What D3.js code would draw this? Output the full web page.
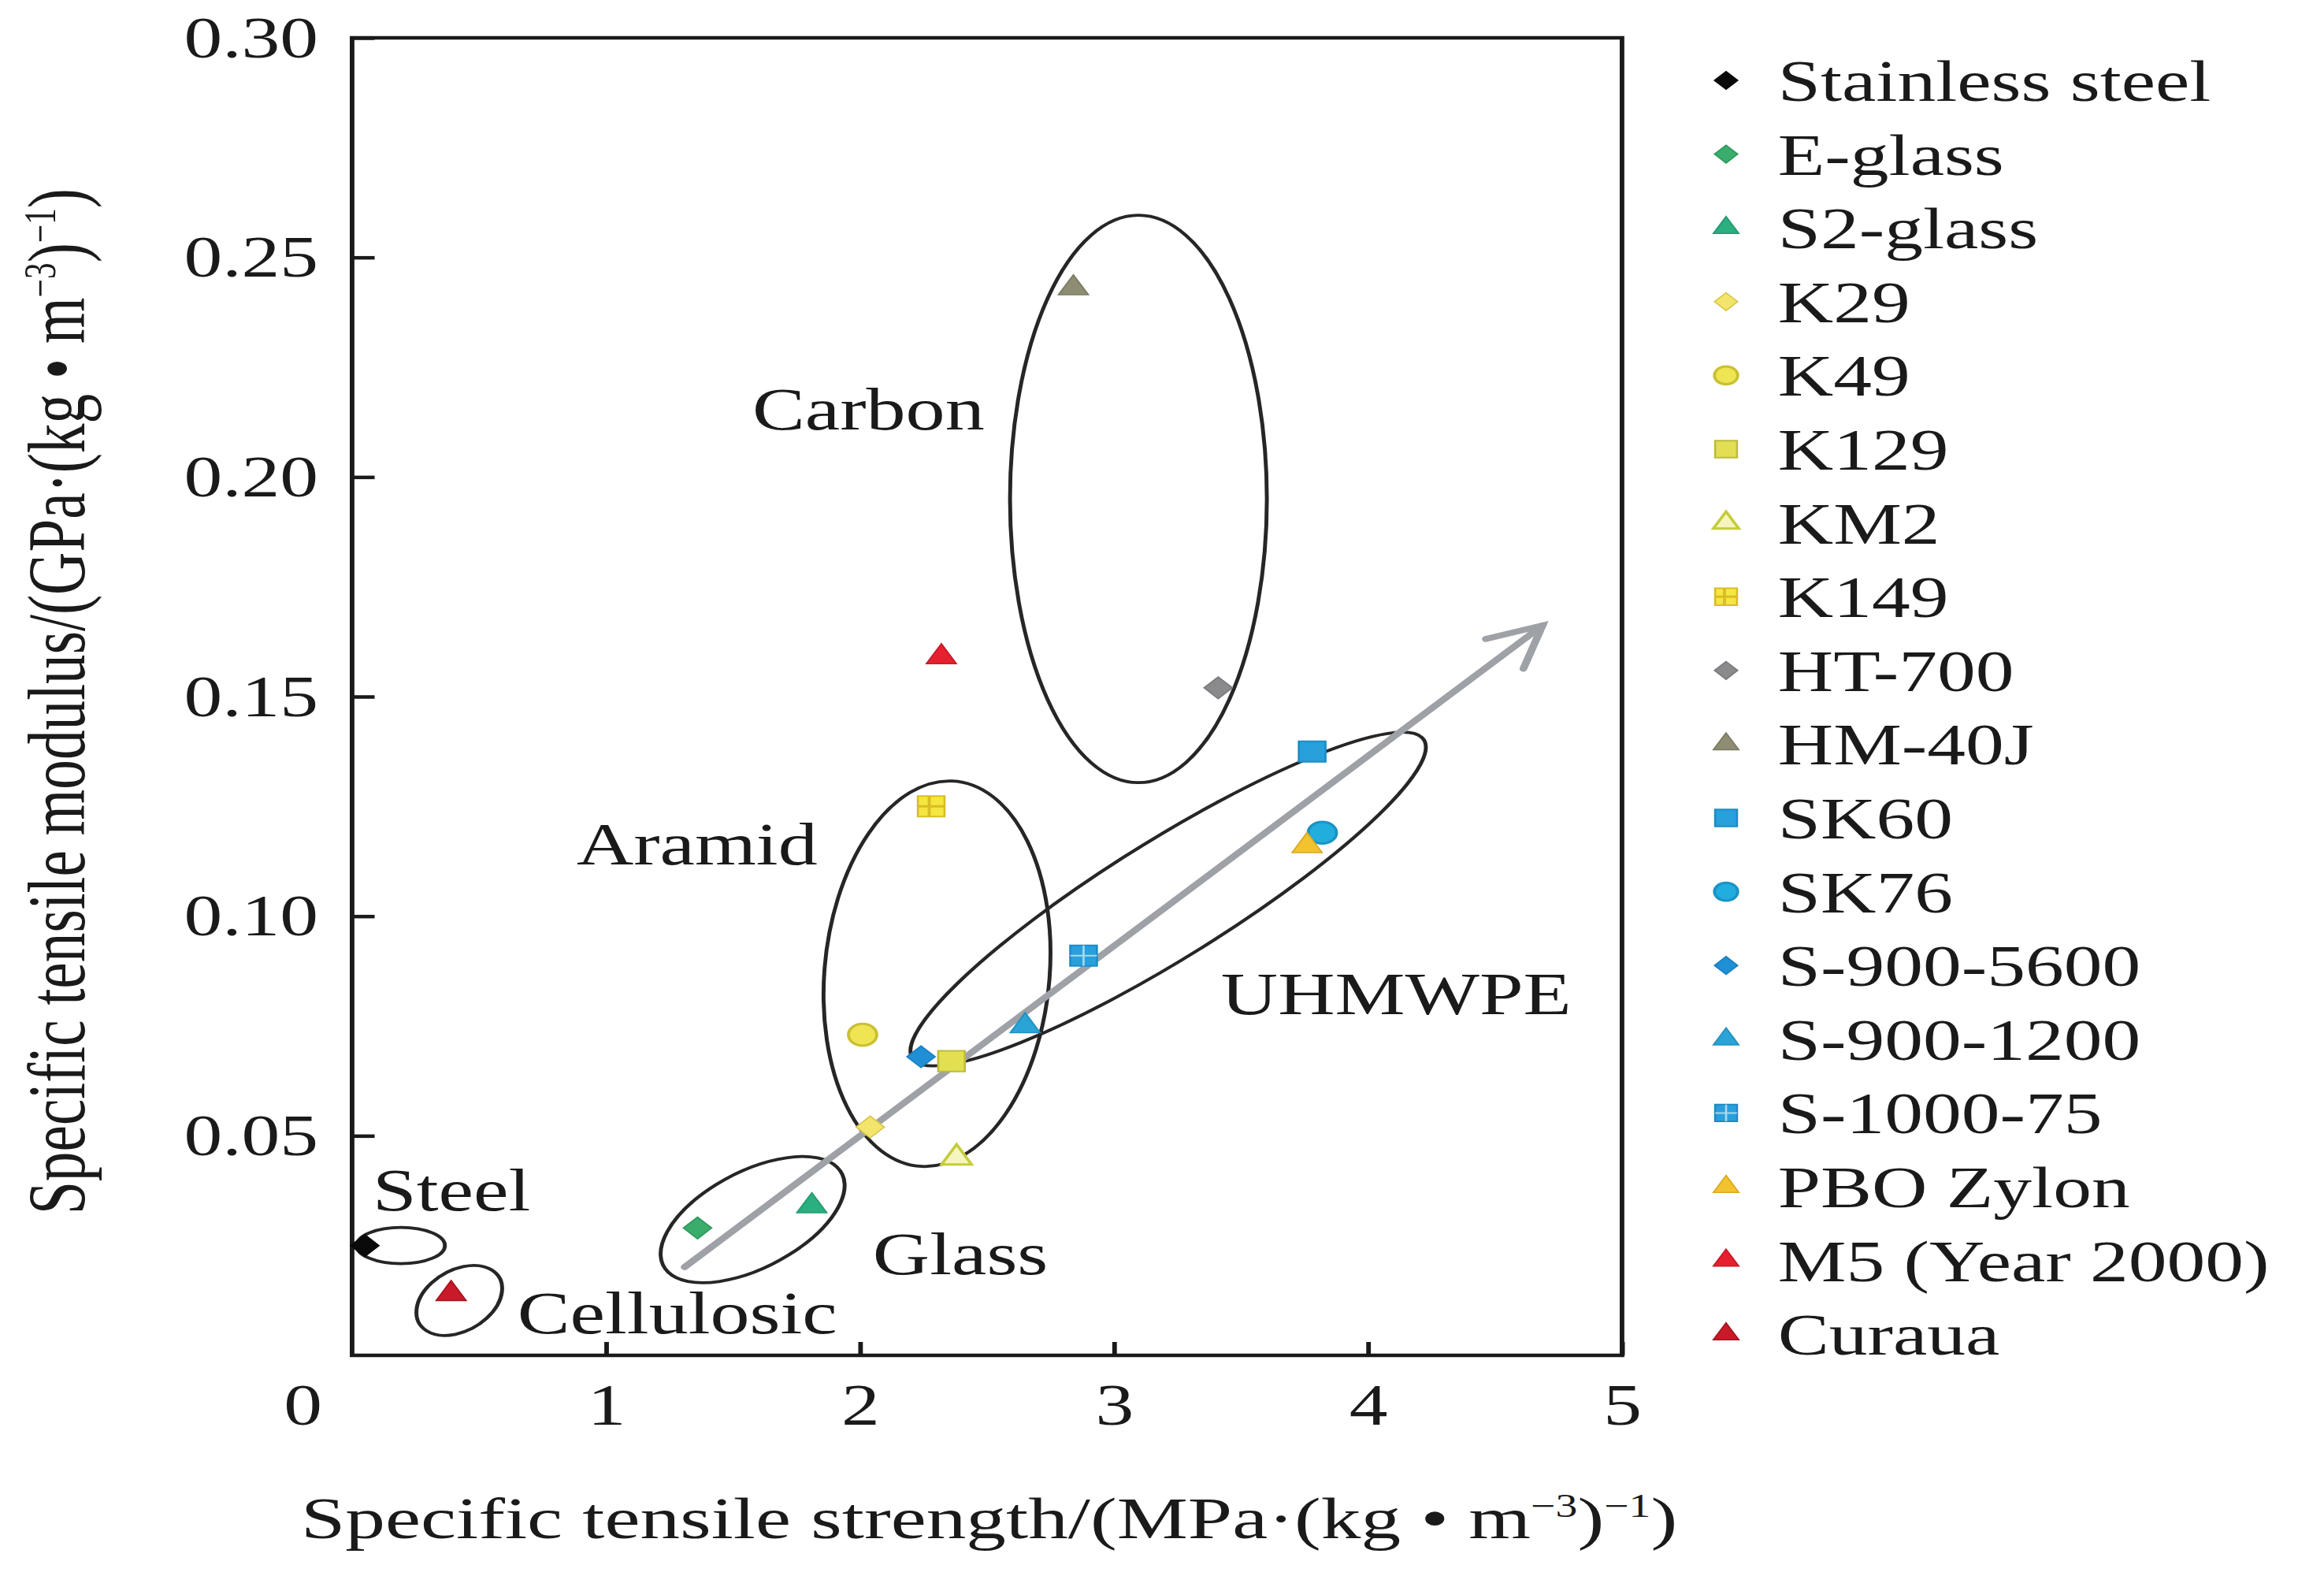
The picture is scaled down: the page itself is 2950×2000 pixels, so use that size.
<!DOCTYPE html>
<html>
<head>
<meta charset="utf-8">
<script src="https://cdn.jsdelivr.net/npm/d3@7"></script>
<style>
html, body { margin: 0; padding: 0; background: #ffffff; }
svg { display: block; }
</style>
</head>
<body>
<svg id="chart"></svg>
<script>
// ---------------- data ----------------
const materials = ["Stainless steel", "E-glass", "S2-glass", "K29", "K49", "K129", "KM2", "K149",
  "HT-700", "HM-40J", "SK60", "SK76", "S-900-5600", "S-900-1200", "S-1000-75", "PBO Zylon",
  "M5 (Year 2000)", "Curaua"];
const strength = [0.05, 1.36, 1.81, 2.04, 2.01, 2.36, 2.38, 2.28,
  3.41, 2.84, 3.78, 3.82, 2.24, 2.65, 2.88, 3.76, 2.32, 0.39];
const modulus = [0.025, 0.029, 0.034, 0.052, 0.073, 0.067, 0.045, 0.125,
  0.152, 0.243, 0.1375, 0.119, 0.068, 0.075, 0.091, 0.116, 0.159, 0.014];
const shapes = ["diamond", "diamond", "triangle", "diamond", "circle", "square", "triangleOpen", "squarePlus",
  "diamond", "triangle", "square", "circle", "diamond", "triangle", "squareCross", "triangle",
  "triangle", "triangle"];
const fills = ["#0a0a0a", "#3aac6c", "#2bae80", "#f3e46c", "#efe552", "#e2df52", "#f6f5bf", "#f6e640",
  "#8a8a8c", "#8e8d74", "#27a0dc", "#22addf", "#1f8fd6", "#2aa3d6", "#27a0dc", "#f2c22f",
  "#e6202f", "#c81a29"];
const strokes = ["#0a0a0a", "#2f9a5c", "#249a70", "#d9c84a", "#c9c033", "#bdbb3c", "#c5cc3c", "#d9bd25",
  "#7a7a7c", "#7c7b62", "#1d8cc4", "#1994c4", "#1a7fc0", "#228fc0", "#1d8cc4", "#d9aa20",
  "#c81a28", "#a8141f"];

const xTicks = [1, 2, 3, 4, 5];
const yTicks = [0.05, 0.10, 0.15, 0.20, 0.25, 0.30];

// group annotations (label anchors in data units)
const groupLabels = ["Carbon", "Aramid", "UHMWPE", "Glass", "Steel", "Cellulosic"];
const groupLabelX = [1.576, 0.884, 3.421, 2.05, 0.081, 0.651];
const groupLabelY = [0.2108, 0.1118, 0.0777, 0.0185, 0.033, 0.005];

// enclosing ellipses (centres in data units)
const ellipseCX = [0.192, 0.422, 1.577, 2.303, 3.213, 3.096];
const ellipseCY = [0.025, 0.0125, 0.0309, 0.0869, 0.1039, 0.195];
const ellipseRX = [43, 50, 106, 110, 321.6, 125.4];
const ellipseRY = [23, 35, 57, 245, 68.6, 360];
const ellipseAngle = [0, -50, -39, 3.5, -39.6, 0];

// trend arrow (data units)
const arrowFrom = [1.309, 0.0201];
const arrowTo = [4.687, 0.1662];

// ---------------- layout ----------------
const W = 2950, H = 2000, SX = 1.3;     // the original figure is horizontally stretched
const VW = W / SX;
const FONT = "'Liberation Serif', 'Times New Roman', Times, serif";
const INK = "#1a1a1a";

const svg = d3.select("#chart")
  .attr("width", W).attr("height", H)
  .attr("viewBox", `0 0 ${VW} ${H}`)
  .attr("preserveAspectRatio", "none")
  .style("font-family", FONT);

svg.append("rect").attr("width", VW).attr("height", H).attr("fill", "#ffffff");

const plot = { left: 343.8, right: 1583.8, top: 48, bottom: 1720 };
const x = d3.scaleLinear().domain([0, 5]).range([plot.left, plot.right]);
const y = d3.scaleLinear().domain([0, 0.30]).range([plot.bottom, plot.top]);

// ---------------- axes ----------------
const xAxis = svg.append("g")
  .attr("transform", `translate(0,${plot.bottom})`)
  .call(d3.axisBottom(x).tickValues(xTicks).tickSizeInner(-17).tickSizeOuter(0)
    .tickPadding(35).tickFormat(d3.format("d")));
const yAxis = svg.append("g")
  .attr("transform", `translate(${plot.left},0)`)
  .call(d3.axisLeft(y).tickValues(yTicks).tickSizeInner(-22).tickSizeOuter(0)
    .tickPadding(33).tickFormat(d3.format(".2f")));
[xAxis, yAxis].forEach(a => {
  a.select(".domain").remove();
  a.selectAll(".tick line").attr("stroke", INK).attr("stroke-width", 4.5);
  a.selectAll(".tick text").attr("fill", INK).style("font-family", FONT).style("font-size", "75px");
});
// origin label
svg.append("text").attr("x", x(0) - 48).attr("y", plot.bottom).attr("dy", "0.71em")
  .attr("transform", `translate(0,35)`)
  .attr("text-anchor", "middle").attr("fill", INK).style("font-size", "75px").text("0");

// frame
svg.append("rect")
  .attr("x", plot.left).attr("y", plot.top)
  .attr("width", plot.right - plot.left).attr("height", plot.bottom - plot.top)
  .attr("fill", "none").attr("stroke", INK).attr("stroke-width", 4.5);

// ---------------- axis titles ----------------
function addTitle(parts, size) {
  const t = svg.append("text").attr("fill", INK).style("font-size", size + "px").attr("x", 0).attr("y", 0);
  parts.forEach(p => {
    const ts = t.append("tspan").text(p.t);
    if (p.sup) ts.attr("font-size", (size * 0.55) + "px").attr("dy", -size * 0.36);
    if (p.down) ts.attr("dy", size * 0.36);
  });
  return t;
}
const titleParts = (a) => [
  { t: a + "·(kg • m" }, { t: "−3", sup: true }, { t: ")", down: true },
  { t: "−1", sup: true }, { t: ")", down: true }
];
const xTitle = addTitle(titleParts("Specific tensile strength/(MPa"), 75);
const xw = xTitle.node().getComputedTextLength();
xTitle.attr("transform", `translate(293.8,1952) scale(${1344 / xw},1)`);

const yTitle = addTitle(titleParts("Specific tensile modulus/(GPa"), 80);
const yw = yTitle.node().getComputedTextLength();
yTitle.attr("transform", `translate(82.3,1541) rotate(-90) scale(${1302 / yw},1)`);

// ---------------- ellipses ----------------
const ell = svg.append("g").attr("fill", "none").attr("stroke", "#262626").attr("stroke-width", 3.8);
ellipseCX.forEach((cx, i) => {
  ell.append("ellipse")
    .attr("rx", ellipseRX[i]).attr("ry", ellipseRY[i])
    .attr("transform", `translate(${x(cx)},${y(ellipseCY[i])}) rotate(${ellipseAngle[i]})`);
});

// ---------------- arrow ----------------
const ax0 = x(arrowFrom[0]), ay0 = y(arrowFrom[1]);
const ax1 = x(arrowTo[0]), ay1 = y(arrowTo[1]);
const ang = Math.atan2(ay1 - ay0, ax1 - ax0);
const headLen = 58, headAng = 27 * Math.PI / 180;
const arrow = svg.append("g").attr("stroke", "#9ea2a7").attr("stroke-width", 7.5).attr("fill", "none")
  .attr("stroke-linecap", "round");
arrow.append("line").attr("x1", ax0).attr("y1", ay0).attr("x2", ax1).attr("y2", ay1);
arrow.append("path").attr("stroke-linejoin", "miter").attr("d",
  d3.line()([
    [ax1 - headLen * Math.cos(ang - headAng), ay1 - headLen * Math.sin(ang - headAng)],
    [ax1, ay1],
    [ax1 - headLen * Math.cos(ang + headAng), ay1 - headLen * Math.sin(ang + headAng)]
  ]));

// ---------------- markers ----------------
function drawMarker(g, shape, fill, stroke, k) {
  const sym = d3.symbol();
  if (shape === "diamond") {
    g.append("path").attr("d", sym.type(d3.symbolSquare).size(380 * k * k)())
      .attr("transform", "rotate(45)").attr("fill", fill).attr("stroke", stroke).attr("stroke-width", 1.5);
  } else if (shape === "circle") {
    g.append("path").attr("d", sym.type(d3.symbolCircle).size(600 * k * k)())
      .attr("fill", fill).attr("stroke", stroke).attr("stroke-width", 3);
  } else if (shape === "square" || shape === "squarePlus" || shape === "squareCross") {
    g.append("path").attr("d", sym.type(d3.symbolSquare).size(680 * k * k)())
      .attr("fill", fill).attr("stroke", stroke).attr("stroke-width", 2);
    const h = Math.sqrt(680) * k / 2;
    if (shape === "squarePlus") {
      g.append("path").attr("d", `M${-h * 0.15},${-h}V${h}M${-h},0H${h}`)
        .attr("stroke", stroke).attr("stroke-width", 3).attr("fill", "none");
    }
    if (shape === "squareCross") {
      g.append("path").attr("d", `M0,${-h}V${h}M${-h},0H${h}`)
        .attr("stroke", "#ffffff").attr("stroke-opacity", 0.6).attr("stroke-width", 2).attr("fill", "none");
    }
  } else if (shape === "triangle" || shape === "triangleOpen") {
    g.append("path").attr("d", sym.type(d3.symbolTriangle).size(370 * k * k)())
      .attr("fill", fill).attr("stroke", stroke).attr("stroke-width", shape === "triangleOpen" ? 3 : 1.5);
  }
}

const pts = svg.append("g");
materials.forEach((m, i) => {
  const g = pts.append("g").attr("transform", `translate(${x(strength[i])},${y(modulus[i])})`);
  drawMarker(g, shapes[i], fills[i], strokes[i], 1);
});

// ---------------- group labels ----------------
groupLabels.forEach((lab, i) => {
  svg.append("text").attr("x", x(groupLabelX[i])).attr("y", y(groupLabelY[i]))
    .attr("fill", INK).style("font-size", "77px").text(lab);
});

// ---------------- legend ----------------
const legend = svg.append("g").attr("transform", "translate(1685.4,102)");
materials.forEach((m, i) => {
  const g = legend.append("g").attr("transform", `translate(0,${i * 93.6})`);
  drawMarker(g, shapes[i], fills[i], strokes[i], shapes[i] === "triangle" || shapes[i] === "triangleOpen" ? 0.85 : 0.82);
  g.append("text").attr("x", 50.6).attr("y", 26).attr("fill", INK).style("font-size", "75px").text(m);
});
</script>
</body>
</html>
